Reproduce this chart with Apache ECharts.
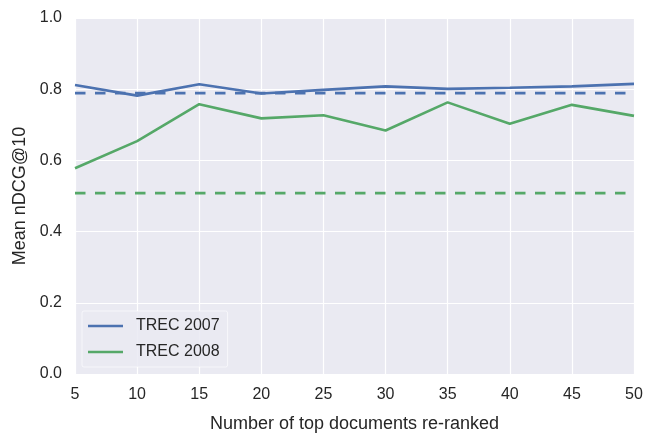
<!DOCTYPE html>
<html>
<head>
<meta charset="utf-8">
<script src="https://cdn.jsdelivr.net/npm/echarts@6/dist/echarts.min.js"></script>
<style>
  html, body { margin: 0; padding: 0; background: #ffffff; }
  #chart { width: 646px; height: 435px; }
</style>
</head>
<body>
<div id="chart"></div>
<script>
// Number of top documents re-ranked
const depths = [5, 10, 15, 20, 25, 30, 35, 40, 45, 50];
// Mean nDCG@10 after re-ranking
const trec2007 = [0.812, 0.782, 0.814, 0.788, 0.798, 0.808, 0.801, 0.804, 0.808, 0.815];
const trec2008 = [0.578, 0.654, 0.758, 0.718, 0.727, 0.684, 0.763, 0.703, 0.756, 0.725];
// Initial ranking (no re-ranking), drawn as dashed reference lines
const base2007 = 0.789;
const base2008 = 0.508;

const BLUE = '#4C72B0';
const GREEN = '#55A868';
const INK = '#262626';
const FONT = '"Liberation Sans", Arial, sans-serif';

const pairs = vals => depths.map((d, i) => [d, vals[i]]);
const flat = v => depths.map(d => [d, v]);

const chart = echarts.init(document.getElementById('chart'), null, { renderer: 'canvas' });
chart.setOption({
  animation: false,
  backgroundColor: '#ffffff',
  textStyle: { fontFamily: FONT, color: INK },
  grid: {
    left: 75, right: 12, top: 18, bottom: 61,
    outerBoundsMode: 'none',
    show: true, backgroundColor: '#EAEAF2', borderWidth: 0
  },
  xAxis: {
    type: 'value', min: 5, max: 50, interval: 5,
    name: 'Number of top documents re-ranked',
    nameLocation: 'middle', nameGap: 41,
    nameTextStyle: { fontSize: 18, color: INK, fontFamily: FONT },
    axisLine: { show: false }, axisTick: { show: false },
    axisLabel: { fontSize: 16, color: INK, margin: 13, fontFamily: FONT },
    splitLine: { show: true, lineStyle: { color: '#ffffff', width: 1.2 } }
  },
  yAxis: {
    type: 'value', min: 0, max: 1, interval: 0.2,
    name: 'Mean nDCG@10',
    nameLocation: 'middle', nameGap: 46,
    nameTextStyle: { fontSize: 18, color: INK, fontFamily: FONT },
    axisLine: { show: false }, axisTick: { show: false },
    axisLabel: { fontSize: 16, color: INK, margin: 13, fontFamily: FONT,
      formatter: v => v.toFixed(1) },
    splitLine: { show: true, lineStyle: { color: '#ffffff', width: 1.2 } }
  },
  legend: {
    data: ['TREC 2007', 'TREC 2008'],
    orient: 'vertical',
    left: 82, top: 311,
    padding: [7, 8, 7, 6],
    itemGap: 10,
    itemWidth: 35, itemHeight: 2.5,
    icon: 'rect',
    backgroundColor: 'rgba(234,234,242,0.85)',
    borderColor: 'rgba(255,255,255,0.6)', borderWidth: 1, borderRadius: 2,
    textStyle: { fontSize: 16, color: INK, fontFamily: FONT, padding: [0, 0, 0, 8] }
  },
  series: [
    {
      name: 'TREC 2007', type: 'line', data: pairs(trec2007),
      showSymbol: false, symbol: 'none', z: 3,
      itemStyle: { color: BLUE },
      lineStyle: { color: BLUE, width: 2.6 }
    },
    {
      name: 'TREC 2008', type: 'line', data: pairs(trec2008),
      showSymbol: false, symbol: 'none', z: 3,
      itemStyle: { color: GREEN },
      lineStyle: { color: GREEN, width: 2.6 }
    },
    {
      name: 'TREC 2007 initial', type: 'line', data: flat(base2007),
      showSymbol: false, symbol: 'none', z: 2,
      lineStyle: { color: BLUE, width: 2.6, type: [10.5, 9.5] }
    },
    {
      name: 'TREC 2008 initial', type: 'line', data: flat(base2008),
      showSymbol: false, symbol: 'none', z: 2,
      lineStyle: { color: GREEN, width: 2.6, type: [10.5, 9.5] }
    }
  ]
});
</script>
</body>
</html>
